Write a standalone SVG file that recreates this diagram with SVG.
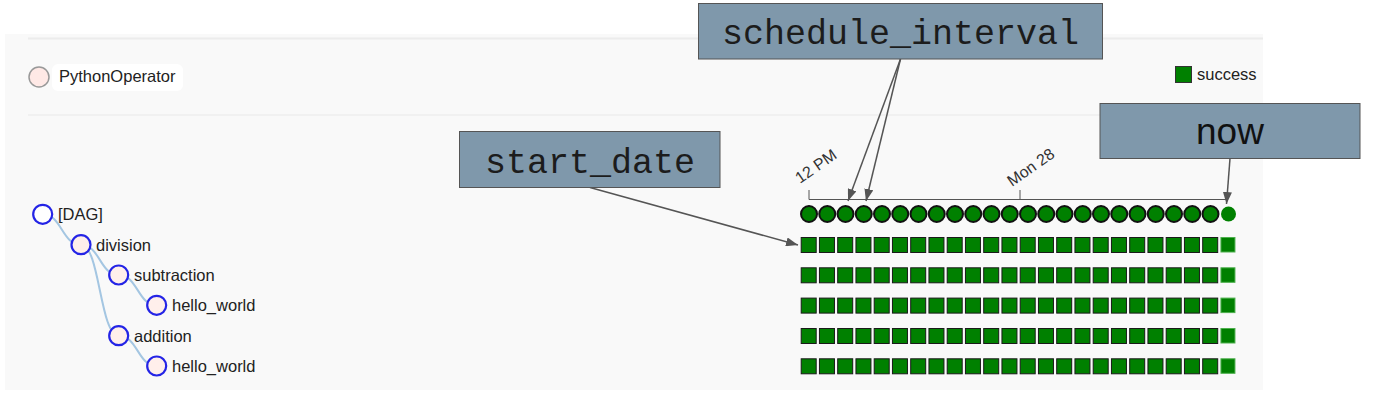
<svg xmlns="http://www.w3.org/2000/svg" xmlns:xlink="http://www.w3.org/1999/xlink" width="1374" height="404" viewBox="0 0 1374 404">
<style>
.lbl{font-family:"Liberation Sans",Arial,sans-serif;font-size:16.5px;fill:#222}
.ax{font-family:"Liberation Sans",Arial,sans-serif;font-size:16px;fill:#333}
.tn{fill:#ffefeb;stroke:#2424e6;stroke-width:2.2}
.edge{fill:none;stroke:#a4c6e2;stroke-width:2}
.sq{fill:#008000;stroke:#1a1a1a;stroke-width:1}
.sqn{fill:#008000;stroke:#4caf4c;stroke-width:1}
.ci{fill:#008000;stroke:#111;stroke-width:2}
.call{fill:#7f98ab;stroke:#555;stroke-width:1}
.ctx{font-family:"Liberation Mono","DejaVu Sans Mono",monospace;font-size:35px;fill:#1c1c1c;text-anchor:middle}
.arr{fill:none;stroke:#555;stroke-width:1.5;marker-end:url(#ah)}
</style>
<defs>
<marker id="ah" markerUnits="userSpaceOnUse" markerWidth="13" markerHeight="9" refX="12" refY="4.5" orient="auto">
<path d="M0,0 L12,4.5 L0,9 z" fill="#555"/>
</marker>
<g id="sqrow">
<rect class="sq" x="801.2" y="0" width="15" height="15"/>
<rect class="sq" x="819.45" y="0" width="15" height="15"/>
<rect class="sq" x="837.7" y="0" width="15" height="15"/>
<rect class="sq" x="855.95" y="0" width="15" height="15"/>
<rect class="sq" x="874.2" y="0" width="15" height="15"/>
<rect class="sq" x="892.45" y="0" width="15" height="15"/>
<rect class="sq" x="910.7" y="0" width="15" height="15"/>
<rect class="sq" x="928.95" y="0" width="15" height="15"/>
<rect class="sq" x="947.2" y="0" width="15" height="15"/>
<rect class="sq" x="965.45" y="0" width="15" height="15"/>
<rect class="sq" x="983.7" y="0" width="15" height="15"/>
<rect class="sq" x="1001.95" y="0" width="15" height="15"/>
<rect class="sq" x="1020.2" y="0" width="15" height="15"/>
<rect class="sq" x="1038.45" y="0" width="15" height="15"/>
<rect class="sq" x="1056.7" y="0" width="15" height="15"/>
<rect class="sq" x="1074.95" y="0" width="15" height="15"/>
<rect class="sq" x="1093.2" y="0" width="15" height="15"/>
<rect class="sq" x="1111.45" y="0" width="15" height="15"/>
<rect class="sq" x="1129.7" y="0" width="15" height="15"/>
<rect class="sq" x="1147.95" y="0" width="15" height="15"/>
<rect class="sq" x="1166.2" y="0" width="15" height="15"/>
<rect class="sq" x="1184.45" y="0" width="15" height="15"/>
<rect class="sq" x="1202.7" y="0" width="15" height="15"/>
<rect class="sqn" x="1220.95" y="0" width="14" height="14.5"/>
</g>
</defs>

<g id="panel">
<rect x="5" y="34" width="1258" height="356" fill="#f9f9f9"/>
<line x1="28" y1="38.5" x2="1263" y2="38.5" stroke="#ececec" stroke-width="2"/>
<line x1="28" y1="115" x2="1263" y2="115" stroke="#eeeeee" stroke-width="1.5"/>
</g>

<g id="legend-operator">
<rect x="52" y="64" width="131" height="27" rx="6" fill="#ffffff"/>
<circle cx="39" cy="77" r="10" fill="#ffe9e6" stroke="#999" stroke-width="1.5"/>
<text class="lbl" x="59" y="82">PythonOperator</text>
</g>

<g id="legend-success">
<rect x="1175.5" y="66.5" width="16" height="16" fill="#008000" stroke="#333" stroke-width="1"/>
<text class="lbl" x="1197" y="80">success</text>
</g>

<g id="connectors">
<path class="edge" d="M42.7,214.3 C61.8,214.3 61.8,244.7 81,244.7"/>
<path class="edge" d="M81,244.7 C99.85,244.7 99.85,275 118.7,275"/>
<path class="edge" d="M118.7,275 C137.7,275 137.7,305.3 156.7,305.3"/>
<path class="edge" d="M81,244.7 C99.85,244.7 99.85,335.7 118.7,335.7"/>
<path class="edge" d="M118.7,335.7 C137.7,335.7 137.7,366 156.7,366"/>
</g>

<g id="node-dag">
<circle cx="42.7" cy="214.3" r="9.5" fill="#ffffff" stroke="#2424e6" stroke-width="2.2"/>
<text class="lbl" x="58" y="220">[DAG]</text>
</g>
<g id="node-division">
<circle class="tn" cx="81" cy="244.7" r="9.5"/>
<text class="lbl" x="96" y="250.5">division</text>
</g>
<g id="node-subtraction">
<circle class="tn" cx="118.7" cy="275" r="9.5"/>
<text class="lbl" x="134" y="281">subtraction</text>
</g>
<g id="node-hello1">
<circle class="tn" cx="156.7" cy="305.3" r="9.5"/>
<text class="lbl" x="172" y="311">hello_world</text>
</g>
<g id="node-addition">
<circle class="tn" cx="118.7" cy="335.7" r="9.5"/>
<text class="lbl" x="134" y="341.5">addition</text>
</g>
<g id="node-hello2">
<circle class="tn" cx="156.7" cy="366" r="9.5"/>
<text class="lbl" x="172" y="372">hello_world</text>
</g>

<g id="axis">
<line x1="809" y1="199.5" x2="1226" y2="199.5" stroke="#555" stroke-width="1"/>
<line x1="809" y1="190" x2="809" y2="199.5" stroke="#555" stroke-width="1"/>
<line x1="1020" y1="190" x2="1020" y2="199.5" stroke="#555" stroke-width="1"/>
<text class="ax" transform="translate(800,184) rotate(-35)">12 PM</text>
<text class="ax" transform="translate(1012,187) rotate(-35)">Mon 28</text>
</g>

<g id="dagruns">
<circle class="ci" cx="809" cy="214" r="8"/>
<circle class="ci" cx="827.25" cy="214" r="8"/>
<circle class="ci" cx="845.5" cy="214" r="8"/>
<circle class="ci" cx="863.75" cy="214" r="8"/>
<circle class="ci" cx="882" cy="214" r="8"/>
<circle class="ci" cx="900.25" cy="214" r="8"/>
<circle class="ci" cx="918.5" cy="214" r="8"/>
<circle class="ci" cx="936.75" cy="214" r="8"/>
<circle class="ci" cx="955" cy="214" r="8"/>
<circle class="ci" cx="973.25" cy="214" r="8"/>
<circle class="ci" cx="991.5" cy="214" r="8"/>
<circle class="ci" cx="1009.75" cy="214" r="8"/>
<circle class="ci" cx="1028" cy="214" r="8"/>
<circle class="ci" cx="1046.25" cy="214" r="8"/>
<circle class="ci" cx="1064.5" cy="214" r="8"/>
<circle class="ci" cx="1082.75" cy="214" r="8"/>
<circle class="ci" cx="1101" cy="214" r="8"/>
<circle class="ci" cx="1119.25" cy="214" r="8"/>
<circle class="ci" cx="1137.5" cy="214" r="8"/>
<circle class="ci" cx="1155.75" cy="214" r="8"/>
<circle class="ci" cx="1174" cy="214" r="8"/>
<circle class="ci" cx="1192.25" cy="214" r="8"/>
<circle class="ci" cx="1210.5" cy="214" r="8"/>
<circle cx="1228.5" cy="214" r="7.5" fill="#008000"/>
</g>

<g id="taskinstances">
<use xlink:href="#sqrow" y="237.5"/>
<use xlink:href="#sqrow" y="267.8"/>
<use xlink:href="#sqrow" y="298.1"/>
<use xlink:href="#sqrow" y="328.5"/>
<use xlink:href="#sqrow" y="358.8"/>
</g>

<g id="callout-arrows">
<line class="arr" x1="590" y1="187.5" x2="798" y2="245"/>
<line class="arr" x1="900.5" y1="59" x2="848" y2="201"/>
<line class="arr" x1="900.5" y1="59" x2="866" y2="201"/>
<line class="arr" x1="1230" y1="158.5" x2="1226.5" y2="204"/>
</g>

<g id="callout-schedule">
<rect class="call" x="698.5" y="3.5" width="404" height="55.5"/>
<text class="ctx" x="900.5" y="44">schedule_interval</text>
</g>
<g id="callout-start">
<rect class="call" x="459.5" y="131.5" width="260.5" height="56"/>
<text class="ctx" x="590" y="173">start_date</text>
</g>
<g id="callout-now">
<rect class="call" x="1100" y="103.5" width="260" height="55"/>
<text x="1230" y="144" text-anchor="middle" font-family="'Liberation Sans',Arial,sans-serif" font-size="37" fill="#111">now</text>
</g>
</svg>
